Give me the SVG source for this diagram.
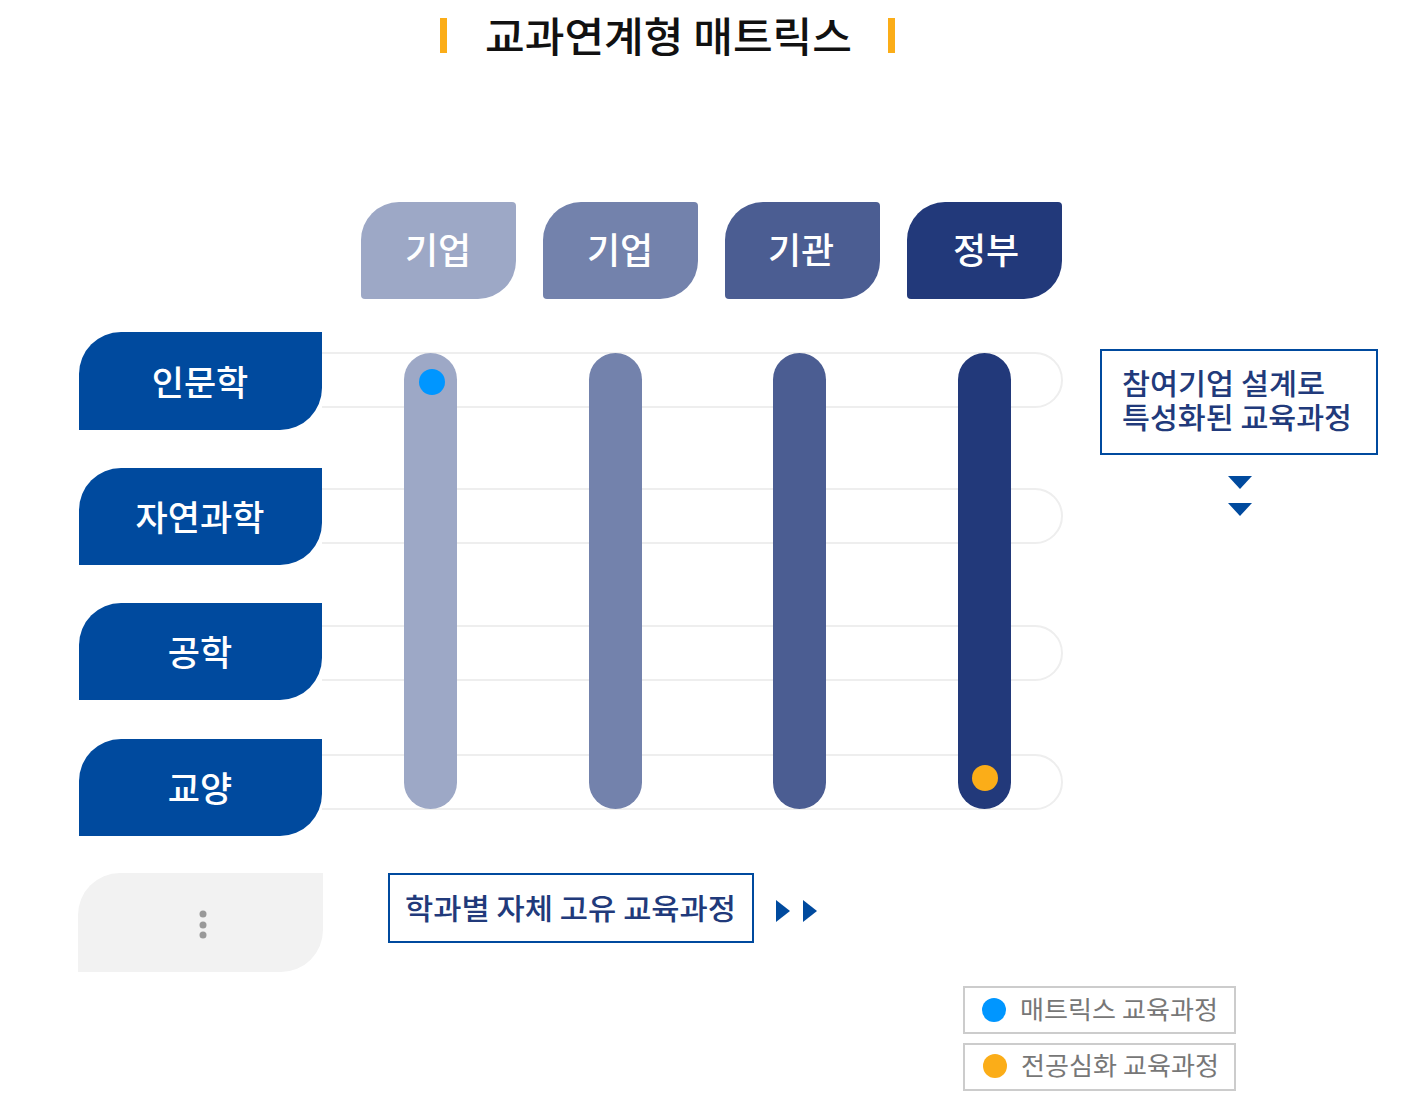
<svg xmlns="http://www.w3.org/2000/svg" width="1423" height="1112" viewBox="0 0 1423 1112">
<style>
text{font-family:"Noto Sans CJK KR","Noto Sans",sans-serif}
.title{font-size:41px;fill:#111;font-weight:500}
.hd{font-size:36px;fill:#fff;font-weight:500;text-anchor:middle}
.rl{font-size:35px;fill:#fff;font-weight:500;text-anchor:middle}
.note{font-size:29px;fill:#213a7b;font-weight:500}
.leg{font-size:25px;fill:#777}
.track{fill:#fff;stroke:#eeeeee;stroke-width:2}
.box{fill:#fff;stroke:#004a9e;stroke-width:2}
.lbox{fill:#fff;stroke:#cccccc;stroke-width:2}
.arr{fill:#004a9e}
.row{fill:#004a9e}
</style>
<rect width="1423" height="1112" fill="#fff"/>
<g id="title">
<rect x="440" y="18" width="7" height="35" fill="#fbad18"/>
<rect x="888" y="18" width="7" height="35" fill="#fbad18"/>
<text class="title" x="485" y="52" textLength="367" lengthAdjust="spacingAndGlyphs">교과연계형 매트릭스</text>
</g>
<g id="tracks">
<path class="track" d="M322,353 H1035 A27,27 0 0 1 1035,407 H322"/>
<path class="track" d="M322,489 H1035 A27,27 0 0 1 1035,543 H322"/>
<path class="track" d="M322,626 H1035 A27,27 0 0 1 1035,680 H322"/>
<path class="track" d="M322,755 H1035 A27,27 0 0 1 1035,809 H322"/>
</g>
<g id="header-1">
<path fill="#9da8c6" d="M361,240 A38,38 0 0 1 399,202 H512 A4,4 0 0 1 516,206 V261 A38,38 0 0 1 478,299 H365 A4,4 0 0 1 361,295 Z"/>
<text class="hd" x="438" y="264">기업</text>
</g>
<g id="header-2">
<path fill="#7382ac" d="M543,240 A38,38 0 0 1 581,202 H694 A4,4 0 0 1 698,206 V261 A38,38 0 0 1 660,299 H547 A4,4 0 0 1 543,295 Z"/>
<text class="hd" x="620" y="264">기업</text>
</g>
<g id="header-3">
<path fill="#4b5d92" d="M725,240 A38,38 0 0 1 763,202 H876 A4,4 0 0 1 880,206 V261 A38,38 0 0 1 842,299 H729 A4,4 0 0 1 725,295 Z"/>
<text class="hd" x="801" y="264">기관</text>
</g>
<g id="header-4">
<path fill="#22397a" d="M907,240 A38,38 0 0 1 945,202 H1058 A4,4 0 0 1 1062,206 V261 A38,38 0 0 1 1024,299 H911 A4,4 0 0 1 907,295 Z"/>
<text class="hd" x="986" y="264">정부</text>
</g>
<g id="row-1">
<path class="row" d="M79,374 A42,42 0 0 1 121,332 H322 V388 A42,42 0 0 1 280,430 H79 Z"/>
<text class="rl" x="200" y="396">인문학</text>
</g>
<g id="row-2">
<path class="row" d="M79,510 A42,42 0 0 1 121,468 H322 V523 A42,42 0 0 1 280,565 H79 Z"/>
<text class="rl" x="200" y="531">자연과학</text>
</g>
<g id="row-3">
<path class="row" d="M79,645 A42,42 0 0 1 121,603 H322 V658 A42,42 0 0 1 280,700 H79 Z"/>
<text class="rl" x="200" y="666">공학</text>
</g>
<g id="row-4">
<path class="row" d="M79,781 A42,42 0 0 1 121,739 H322 V794 A42,42 0 0 1 280,836 H79 Z"/>
<text class="rl" x="200" y="802">교양</text>
</g>
<g id="row-more">
<path fill="#f2f2f2" d="M78,915 A42,42 0 0 1 120,873 H323 V930 A42,42 0 0 1 281,972 H78 Z"/>
<circle cx="203" cy="914" r="3.5" fill="#999"/>
<circle cx="203" cy="925" r="3.5" fill="#999"/>
<circle cx="203" cy="935" r="3.5" fill="#999"/>
</g>
<g id="columns">
<rect x="404" y="353" width="53" height="456" rx="26.5" fill="#9da8c6"/>
<rect x="589" y="353" width="53" height="456" rx="26.5" fill="#7382ac"/>
<rect x="773" y="353" width="53" height="456" rx="26.5" fill="#4b5d92"/>
<rect x="958" y="353" width="53" height="456" rx="26.5" fill="#22397a"/>
<circle cx="432" cy="382" r="13" fill="#0096ff"/>
<circle cx="985" cy="778" r="13" fill="#fbad18"/>
</g>
<g id="note-company">
<rect class="box" x="1101" y="350" width="276" height="104"/>
<text class="note" x="1122" y="395" textLength="203" lengthAdjust="spacingAndGlyphs">참여기업 설계로</text>
<text class="note" x="1122" y="429" textLength="230" lengthAdjust="spacingAndGlyphs">특성화된 교육과정</text>
</g>
<g id="note-dept">
<rect class="box" x="389" y="874" width="364" height="68"/>
<text class="note" x="405" y="920" textLength="331" lengthAdjust="spacingAndGlyphs">학과별 자체 고유 교육과정</text>
</g>
<g id="connectors">
<polygon class="arr" points="1228,476 1252,476 1240,489"/>
<polygon class="arr" points="1228,503 1252,503 1240,516"/>
<polygon class="arr" points="776,900 790,911 776,922"/>
<polygon class="arr" points="803,900 817,911 803,922"/>
</g>
<g id="legend-matrix">
<rect class="lbox" x="964" y="987" width="271" height="46"/>
<circle cx="994" cy="1010" r="12" fill="#0096ff"/>
<text class="leg" x="1020" y="1019" textLength="198" lengthAdjust="spacingAndGlyphs">매트릭스 교육과정</text>
</g>
<g id="legend-major">
<rect class="lbox" x="964" y="1044" width="271" height="46"/>
<circle cx="995" cy="1066" r="12" fill="#fbad18"/>
<text class="leg" x="1021" y="1075" textLength="198" lengthAdjust="spacingAndGlyphs">전공심화 교육과정</text>
</g>
</svg>
